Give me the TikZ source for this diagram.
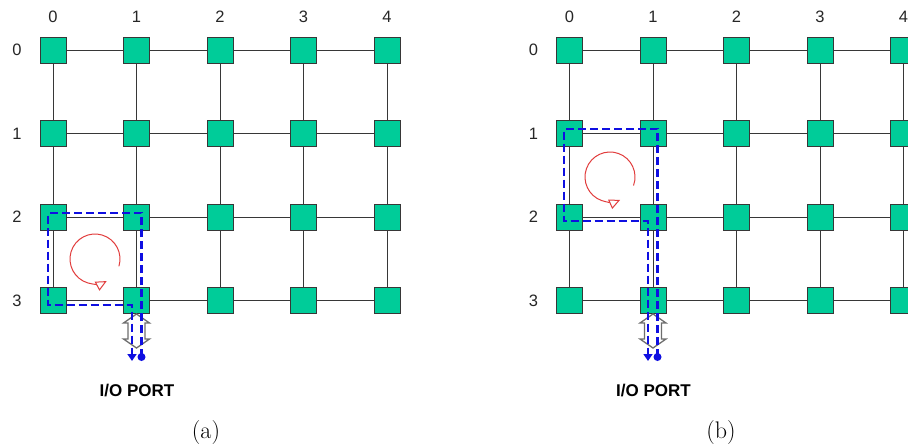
\documentclass[tikz,border=0pt]{standalone}
\usepackage{fontspec}
\newfontfamily\arial{Liberation Sans}
\usetikzlibrary{arrows.meta}
\definecolor{nodegreen}{RGB}{0,204,153}
\definecolor{gridgray}{RGB}{55,55,55}
\definecolor{pathblue}{RGB}{15,15,225}
\definecolor{loopred}{RGB}{225,60,60}
\definecolor{portgray}{RGB}{110,110,110}
\begin{document}
\begin{tikzpicture}[x=1pt,y=1pt,
  router/.style={draw=gridgray,fill=nodegreen,minimum size=26pt,inner sep=0pt,line width=0.8pt},
  link/.style={draw=gridgray,line width=0.8pt},
  idx/.style={font=\arial\fontsize{16.5}{19}\selectfont,inner sep=0pt,text=black!85},
  portlabel/.style={font=\arial\bfseries\fontsize{17}{20}\selectfont,inner sep=0pt},
  caption/.style={font=\fontsize{24}{28}\selectfont,inner sep=0pt},
  portarrow/.style={draw=portgray,fill=white,line width=1.3pt,line join=miter},
  route/.style={draw=pathblue,line width=2.2pt,dash pattern=on 8pt off 4pt},
  routeend/.style={-{Triangle[width=9pt,length=7pt]}},
  loopdir/.style={draw=loopred,line width=1pt,-{Triangle[open,fill=white,width=10pt,length=11pt]}}
]
\useasboundingbox (0,0) rectangle (908,-447);

% routers, labels
\foreach \p/\ox in {a/0,b/516.5} {
  \foreach \c in {0,...,4} {
    \node[idx] (\p-col\c) at (\ox+53+83.5*\c,-17) {\c};
    \foreach \r in {0,...,3} {
      \node[router] (\p-\r-\c) at (\ox+53+83.5*\c,-50-83.5*\r) {};
    }
  }
  \foreach \r in {0,...,3} {
    \node[idx] (\p-row\r) at (\ox+17,-50-83.5*\r) {\r};
  }
  % links
  \foreach \r in {0,...,3} {
    \foreach \c [count=\cn from 1] in {0,...,3} {
      \draw[link] (\p-\r-\c) -- (\p-\r-\cn);
    }
  }
  \foreach \c in {0,...,4} {
    \foreach \r [count=\rn from 1] in {0,...,2} {
      \draw[link] (\p-\r-\c) -- (\p-\rn-\c);
    }
  }
  % port
  \coordinate (\p-port) at (\ox+136.5,-331);
  \draw[portarrow] ([shift={(0,17)}]\p-port) -- ++(13,-9) -- ++(-4.5,0) -- ++(0,-16) -- ++(4.5,0)
     -- ++(-13,-9) -- ++(-13,9) -- ++(4.5,0) -- ++(0,16) -- ++(-4.5,0) -- cycle;
  \node[portlabel] (\p-iolabel) at (\ox+137,-391) {I/O PORT};
}
\node[caption] (capa) at (206,-433) {(a)};
\node[caption] (capb) at (721,-433) {(b)};

% route (a)
\coordinate (a-s) at (141.5,-357);
\coordinate (a-t1) at (141.5,-213);
\coordinate (a-t2) at (48,-213);
\coordinate (a-t3) at (48,-305);
\coordinate (a-t4) at (132,-305);
\coordinate (a-e) at (132,-361);
\draw[route,routeend] (a-s) -- (a-t1) -- (a-t2) -- (a-t3) -- (a-t4) -- (a-e);
\fill[pathblue] (a-s) circle (4pt);

% route (b)
\coordinate (b-s) at (657.5,-357);
\coordinate (b-t1) at (657.5,-129);
\coordinate (b-t2) at (564,-129);
\coordinate (b-t3) at (564,-221);
\coordinate (b-t4) at (648,-221);
\coordinate (b-e) at (648,-361);
\draw[route,routeend] (b-s) -- (b-t1) -- (b-t2) -- (b-t3) -- (b-t4) -- (b-e);
\fill[pathblue] (b-s) circle (4pt);

% rotation arrows
\coordinate (a-c) at (95,-259);
\draw[loopdir] ([shift={(-17:25)}]a-c) arc[start angle=-17,end angle=298,radius=25];
\coordinate (b-c) at (610,-177);
\draw[loopdir] ([shift={(-20:25)}]b-c) arc[start angle=-20,end angle=294,radius=25];
\end{tikzpicture}
\end{document}
